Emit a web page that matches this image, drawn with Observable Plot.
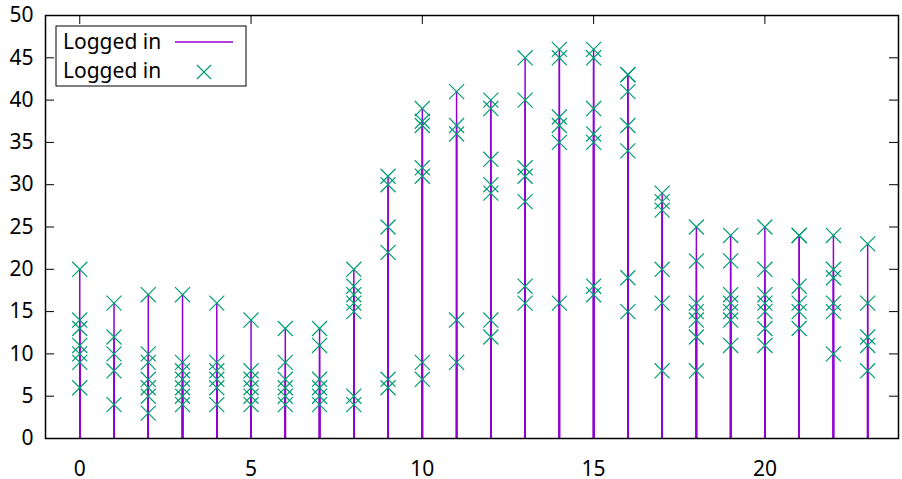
<!DOCTYPE html>
<html>
<head>
<meta charset="utf-8">
<script src="https://cdn.jsdelivr.net/npm/d3@7"></script>
<script src="https://cdn.jsdelivr.net/npm/@observablehq/plot@0.6"></script>
<style>
  body { margin: 0; background: #fff; }
  #chart { position: relative; width: 902px; height: 479px; }
</style>
</head>
<body>
<div id="chart"></div>
<script>
// ---- data ----
const hours = [0,1,2,3,4,5,6,7,8,9,10,11,12,13,14,15,16,17,18,19,20,21,22,23];
const samplesByHour = [
  [20, 14, 13, 11, 10, 9, 6],
  [16, 12, 10, 8, 4],
  [17, 10, 9, 7, 6, 5, 3],
  [17, 9, 8, 7, 6, 5, 4],
  [16, 9, 8, 7, 6, 4],
  [14, 8, 7, 6, 5, 4],
  [13, 9, 7, 6, 5, 4],
  [13, 11, 7, 6, 5, 4],
  [20, 18, 17, 16, 15, 5, 4],
  [31, 30, 25, 22, 7, 6],
  [39, 37.5, 37, 32, 31, 9, 7],
  [41, 37, 36, 14, 9],
  [40, 39, 33, 30, 29, 14, 12],
  [45, 40, 32, 31, 28, 18, 16],
  [46, 45, 38, 37, 35, 16],
  [46, 45, 39, 36, 35, 18, 17],
  [43, 43, 41, 37, 34, 19, 15],
  [29, 28, 27, 20, 16, 8],
  [25, 21, 16, 15, 14, 12, 8],
  [24, 21, 17, 16, 15, 14, 11],
  [25, 20, 17, 16, 15, 13, 11],
  [24, 24, 18, 16, 15, 13],
  [24, 20, 19, 16, 15, 10],
  [23, 16, 12, 11, 8]
];
const xTicks = [0, 5, 10, 15, 20];
const yTicks = [0, 5, 10, 15, 20, 25, 30, 35, 40, 45, 50];
const seriesLabels = ["Logged in", "Logged in"];

const rows = hours.flatMap((h, i) => samplesByHour[i].map(v => ({hour: h, count: v})));

// ---- layout / style ----
const W = 902, H = 479;
const mL = 45, mR = 4, mT = 15, mB = 41;
const plotW = W - mL - mR, plotH = H - mT - mB;
const tickLen = 9;
const lineColor = "#9400D3";
const pointColor = "#009E73";
const font = "Noto Sans";
const fs = 21;

const chart = Plot.plot({
  width: W, height: H,
  marginLeft: mL, marginRight: mR, marginTop: mT, marginBottom: mB,
  x: {domain: [-1, 23.9]},
  y: {domain: [0, 50]},
  style: {fontFamily: font, fontSize: fs + "px", color: "black", background: "white"},
  marks: [
    // inward ticks on all four sides (mirrored, gnuplot style)
    Plot.tickY(yTicks, {y: d => d, insetRight: plotW - tickLen, stroke: "black", strokeWidth: 1}),
    Plot.tickY(yTicks, {y: d => d, insetLeft: plotW - tickLen, stroke: "black", strokeWidth: 1}),
    Plot.tickX(xTicks, {x: d => d, insetTop: plotH - tickLen, stroke: "black", strokeWidth: 1}),
    Plot.tickX(xTicks, {x: d => d, insetBottom: plotH - tickLen, stroke: "black", strokeWidth: 1}),
    // impulses
    Plot.ruleX(rows, {x: "hour", y1: d => 0, y2: "count", stroke: lineColor, strokeWidth: 1.5}),
    // points
    Plot.dot(rows, {x: "hour", y: "count", symbol: "times", r: 6.9, stroke: pointColor, strokeWidth: 1.2}),
    // tick labels
    Plot.axisY({ticks: yTicks, tickSize: 0, tickPadding: 12, fontSize: fs, label: null}),
    Plot.axisX({ticks: xTicks, tickSize: 0, tickPadding: 23, fontSize: fs, label: null}),
    Plot.frame({stroke: "black", strokeWidth: 1.5})
  ]
});

// ---- key box inside the plot (top-left) ----
const svg = d3.select(chart);
const key = svg.append("g").attr("font-family", font).attr("font-size", fs).attr("text-anchor", "start");
key.append("rect").attr("x", 56).attr("y", 26).attr("width", 190).attr("height", 60)
  .attr("fill", "none").attr("stroke", "black").attr("stroke-width", 1);
key.append("text").attr("x", 63).attr("y", 48.5).attr("fill", "black").attr("text-anchor", "start").text(seriesLabels[0]);
key.append("text").attr("x", 63).attr("y", 77.5).attr("fill", "black").attr("text-anchor", "start").text(seriesLabels[1]);
key.append("line").attr("x1", 175).attr("x2", 233).attr("y1", 42).attr("y2", 42)
  .attr("stroke", lineColor).attr("stroke-width", 1.5);
key.append("path").attr("d", "M197,65L211,79M197,79L211,65")
  .attr("stroke", pointColor).attr("stroke-width", 1.2).attr("fill", "none");

document.getElementById("chart").appendChild(chart);
</script>
</body>
</html>
